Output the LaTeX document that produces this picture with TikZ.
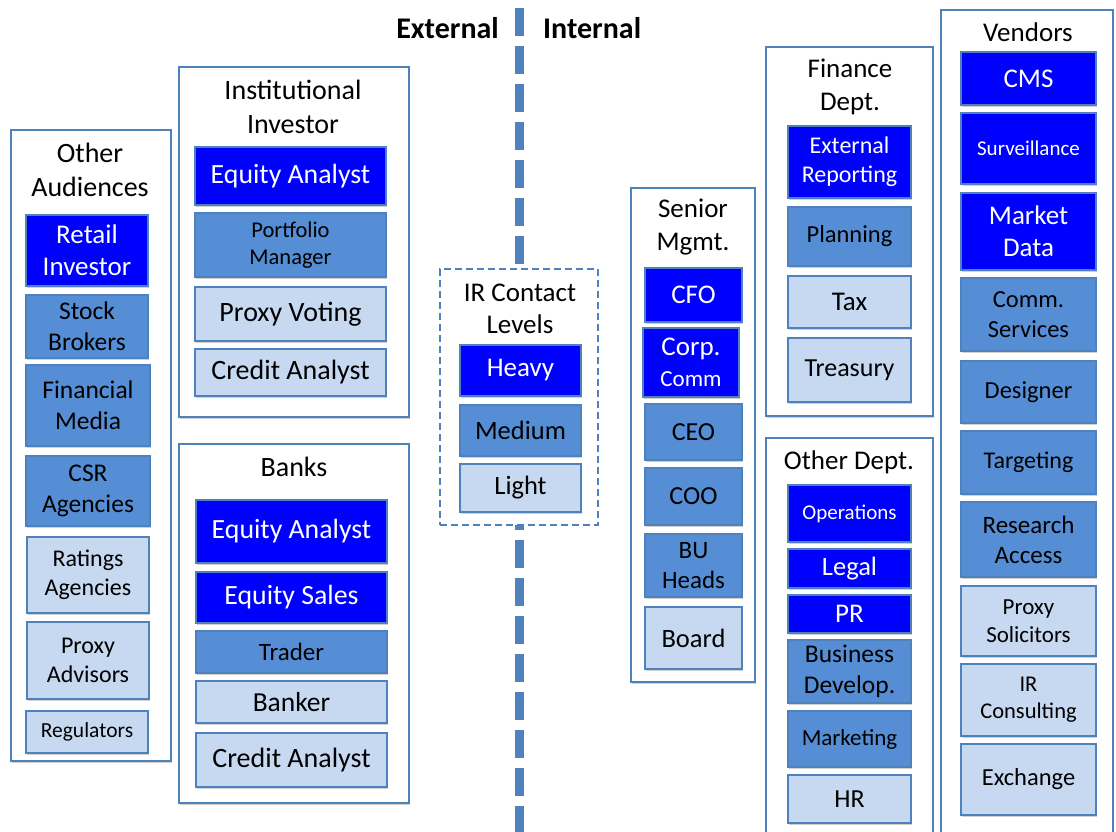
\documentclass[tikz,border=0pt]{standalone}
\usepackage{fontspec}
\setmainfont{Carlito}
\usetikzlibrary{shadows}
\definecolor{dkb}{HTML}{0000FF}
\definecolor{mdb}{HTML}{558ED5}
\definecolor{ltb}{HTML}{C6D9F1}
\definecolor{edge}{HTML}{4F81BD}
\tikzset{
  sh/.style={drop shadow={shadow xshift=1.2pt,shadow yshift=-1.8pt,opacity=0.3,fill=black!60}},
  cont/.style={draw=edge,line width=2.2pt,fill=white,sh,inner sep=0pt},
  irbox/.style={draw=edge,line width=2.2pt,fill=white,dash pattern=on 7pt off 4pt,inner sep=0pt},
  ttl/.style={align=center,inner sep=0pt,text=black},
  dk/.style={draw=edge,line width=1.8pt,fill=dkb,text=white,sh,align=center,inner sep=0pt},
  md/.style={draw=edge,line width=1.8pt,fill=mdb,text=black,sh,align=center,inner sep=0pt},
  lt/.style={draw=edge,line width=1.8pt,fill=ltb,text=black,sh,align=center,inner sep=0pt},
}
% \bxx{name}{left}{top}{right}{bottom}{style}{fontsize}{text}
\newcommand{\bxx}[8]{\pgfmathsetmacro\myBls{#7*1.2}\node[#6,minimum width={(#4-#2)*1pt},minimum height={(#5-#3)*1pt},font=\fontsize{#7}{\myBls}\selectfont] (#1) at ({(#2+#4)/2},{(#3+#5)/2}) {#8};}
\newcommand{\ttlnode}[5]{\pgfmathsetmacro\myBls{#4*1.2}\node[ttl,font=\fontsize{#4}{\myBls}\selectfont] (#1) at (#2,#3) {#5};}
\begin{document}
\begin{tikzpicture}[x=1pt,y=-1pt]
\useasboundingbox (0,0) rectangle (1116,831);
\clip (0,0) rectangle (1116,831);
% divider
\coordinate (dtop) at (519,8);
\coordinate (dbot) at (519,840);
\draw[edge,line width=9pt,dash pattern=on 28pt off 10pt] (dtop) -- (dbot);
\node[font=\bfseries\fontsize{30}{34}\selectfont,anchor=east,inner sep=0pt] (ext) at (499,28) {External};
\node[font=\bfseries\fontsize{30}{34}\selectfont,anchor=west,inner sep=0pt] (int) at (543,28) {Internal};

% Other Audiences
\bxx{oa}{11}{130}{171}{761}{cont}{10}{}
\ttlnode{oat}{90}{170}{28}{Other\\Audiences}
\bxx{oa1}{26}{215}{148}{286}{dk}{27}{Retail\\Investor}
\bxx{oa2}{26}{295}{148}{358}{md}{25.5}{Stock\\Brokers}
\bxx{oa3}{26}{365}{150}{446}{md}{25.5}{Financial\\Media}
\bxx{oa4}{26}{456}{150}{526}{md}{25.5}{CSR\\Agencies}
\bxx{oa5}{27}{537}{149}{613}{lt}{24}{Ratings\\Agencies}
\bxx{oa6}{27}{622}{149}{699}{lt}{24}{Proxy\\Advisors}
\bxx{oa7}{26}{711}{148}{753}{lt}{21.5}{Regulators}

% Institutional Investor
\bxx{ii}{179}{67}{409}{417}{cont}{10}{}
\ttlnode{iit}{293}{107}{28}{Institutional\\Investor}
\bxx{ii1}{195}{147}{386}{205}{dk}{27.8}{Equity Analyst}
\bxx{ii2}{195}{213}{386}{277}{md}{22.5}{Portfolio\\Manager}
\bxx{ii3}{195}{287}{386}{341}{lt}{28}{Proxy Voting}
\bxx{ii4}{195}{349}{386}{396}{lt}{28}{Credit Analyst}

% Banks
\bxx{bk}{179}{444}{409}{803}{cont}{10}{}
\ttlnode{bkt}{294}{467}{28}{Banks}
\bxx{bk1}{196}{500}{387}{563}{dk}{27.8}{Equity Analyst}
\bxx{bk2}{196}{572}{387}{623}{dk}{27.8}{Equity Sales}
\bxx{bk3}{196}{631}{387}{673}{md}{25}{Trader}
\bxx{bk4}{196}{681}{387}{723}{lt}{27.5}{Banker}
\bxx{bk5}{196}{733}{387}{787}{lt}{28}{Credit Analyst}

% IR Contact Levels
\bxx{ir}{440}{269}{598}{525}{irbox}{10}{}
\ttlnode{irt}{520}{309}{27}{IR Contact\\Levels}
\bxx{ir1}{460}{345}{581}{396}{dk}{27}{Heavy}
\bxx{ir2}{460}{405}{581}{456}{md}{26.5}{Medium}
\bxx{ir3}{460}{464}{581}{512}{lt}{26.5}{Light}

% Senior Mgmt
\bxx{sm}{631}{188}{755}{682}{cont}{10}{}
\ttlnode{smt}{693}{227}{27}{Senior\\Mgmt.}
\bxx{sm1}{645}{268}{742}{322}{dk}{27}{CFO}
\node[dk,minimum width=96pt,minimum height=69pt,font=\fontsize{27}{31}\selectfont] (sm2) at (691,362.5) {Corp.\\\fontsize{23}{31}\selectfont Comm};
\bxx{sm3}{645}{404}{742}{460}{md}{26}{CEO}
\bxx{sm4}{645}{468}{742}{525}{md}{26}{COO}
\bxx{sm5}{645}{534}{742}{597}{md}{25}{BU\\Heads}
\bxx{sm6}{645}{607}{742}{669}{lt}{26.5}{Board}

% Finance Dept
\bxx{fd}{766}{47}{933}{416}{cont}{10}{}
\ttlnode{fdt}{850}{87}{27}{Finance\\Dept.}
\bxx{fd1}{788}{126}{911}{198}{dk}{24}{External\\Reporting}
\bxx{fd2}{788}{207}{911}{266}{md}{24.5}{Planning}
\bxx{fd3}{788}{276}{911}{328}{lt}{27}{Tax}
\bxx{fd4}{788}{338}{911}{402}{lt}{26}{Treasury}

% Other Dept
\bxx{od}{766}{438}{933}{850}{cont}{10}{}
\ttlnode{odt}{849}{462}{27}{Other Dept.}
\bxx{od1}{788}{485}{911}{542}{dk}{21}{Operations}
\bxx{od2}{788}{549}{911}{588}{dk}{26.5}{Legal}
\bxx{od3}{788}{595}{911}{633}{dk}{27}{PR}
\bxx{od4}{788}{640}{911}{703}{md}{25.5}{Business\\Develop.}
\bxx{od5}{788}{711}{911}{767}{md}{23}{Marketing}
\bxx{od6}{788}{775}{911}{823}{lt}{26}{HR}

% Vendors
\bxx{vd}{941}{10}{1113}{850}{cont}{10}{}
\ttlnode{vdt}{1028}{32}{27}{Vendors}
\bxx{vd1}{961}{52}{1096}{105}{dk}{27}{CMS}
\bxx{vd2}{961}{113}{1096}{184}{dk}{21}{Surveillance}
\bxx{vd3}{961}{193}{1096}{270}{dk}{27}{Market\\Data}
\bxx{vd4}{961}{278}{1096}{351}{md}{24.5}{Comm.\\Services}
\bxx{vd5}{961}{361}{1096}{423}{md}{24.5}{Designer}
\bxx{vd6}{961}{431}{1096}{494}{md}{24}{Targeting}
\bxx{vd7}{961}{502}{1096}{577}{md}{25}{Research\\Access}
\bxx{vd8}{961}{586}{1096}{656}{lt}{23}{Proxy\\Solicitors}
\bxx{vd9}{961}{664}{1096}{736}{lt}{22.5}{IR\\Consulting}
\bxx{vd10}{961}{744}{1096}{815}{lt}{24.5}{Exchange}
\end{tikzpicture}
\end{document}
